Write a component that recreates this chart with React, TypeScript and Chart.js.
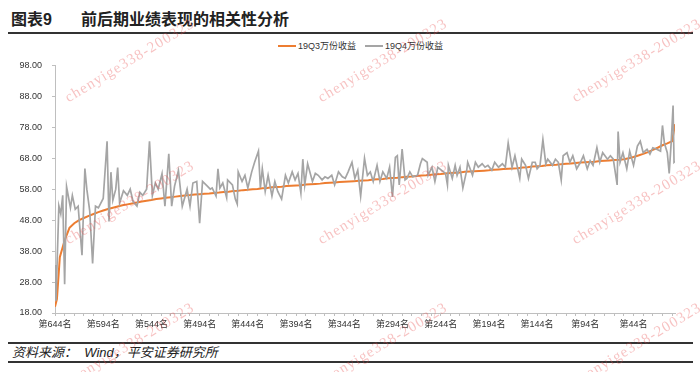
import React, { useEffect, useRef } from "react";
import { Chart, registerables } from "chart.js";

Chart.register(...registerables);

// ---------- data ----------
// 19Q3万份收益: rank positions (第N名, left = 644, right = 1) and values
const q3Ranks = [
  644, 642, 639, 634, 629, 624, 619, 614, 609, 604, 599, 594, 589, 584, 579, 574, 569, 564, 559, 554,
  549, 544, 539, 534, 529, 524, 519, 514, 509, 504, 499, 494, 489, 484, 479, 474, 469, 464, 459, 454,
  449, 444, 439, 434, 429, 424, 419, 414, 409, 404, 399, 394, 389, 384, 379, 374, 369, 364, 359, 354,
  349, 344, 339, 334, 329, 324, 319, 314, 309, 304, 299, 294, 289, 284, 279, 274, 269, 264, 259, 254,
  249, 244, 239, 234, 229, 224, 219, 214, 209, 204, 199, 194, 189, 184, 179, 174, 169, 164, 159, 154,
  149, 144, 139, 134, 129, 124, 119, 114, 109, 104, 99, 94, 89, 84, 79, 74, 69, 64, 59, 54,
  49, 44, 39, 34, 29, 24, 19, 14, 9, 4, 1,
];
const q3Values = [
  20, 22.5,
  36, 41.5, 45.5, 47, 48, 48.7, 49.4, 50, 50.6, 51.1,
  51.6, 52, 52.4, 52.8, 53.1, 53.4, 53.7, 54, 54.3, 54.5,
  54.8, 55, 55.2, 55.4, 55.6, 55.8, 56, 56.1, 56.3, 56.4,
  56.5, 56.6, 56.8, 56.9, 57.1, 57.2, 57.4, 57.5, 57.7, 57.8,
  58, 58.1, 58.3, 58.4, 58.6, 58.7, 58.8, 59, 59.1, 59.2,
  59.3, 59.5, 59.6, 59.7, 59.8, 60, 60.1, 60.2, 60.3, 60.4,
  60.5, 60.6, 60.7, 60.8, 60.9, 61.1, 61.2, 61.3, 61.5, 61.6,
  61.7, 61.9, 62, 62.1, 62.3, 62.4, 62.5, 62.7, 62.8, 62.9,
  63.1, 63.2, 63.3, 63.4, 63.6, 63.7, 63.8, 63.9, 64, 64.1,
  64.3, 64.4, 64.5, 64.6, 64.7, 64.8, 65, 65.1, 65.3, 65.4,
  65.5, 65.7, 65.8, 65.9, 66.1, 66.2, 66.3, 66.5, 66.6, 66.7,
  66.8, 66.9, 67.1, 67.2, 67.3, 67.4, 67.5, 67.7, 68, 68.4,
  68.9, 69.4, 70, 70.7, 71.4, 72.2, 72.8, 73.5,
  79,
];

// 19Q4万份收益: rank positions and values
const q4Ranks = [
  644, 643, 640, 638, 636, 634, 632, 628, 626, 623, 620, 616, 613, 611, 608, 605, 602, 599, 594, 590,
  588, 586, 584, 581, 579, 577, 573, 569, 566, 563, 559, 556, 553, 549, 546, 543, 540, 537, 533, 530,
  526, 523, 520, 516, 512, 507, 504, 501, 497, 494, 491, 486, 483, 481, 477, 475, 473, 470, 466, 465,
  460, 457, 455, 454, 450, 447, 444, 440, 437, 433, 431, 429, 426, 423, 419, 416, 413, 409, 405, 402,
  398, 395, 392, 389, 387, 385, 382, 377, 374, 371, 367, 364, 361, 357, 354, 350, 346, 343, 340, 336,
  333, 330, 327, 323, 320, 317, 314, 310, 307, 304, 300, 297, 294, 291, 289, 287, 284, 281, 279, 276,
  273, 268, 265, 263, 258, 257, 253, 250, 247, 243, 239, 237, 236, 232, 229, 227, 224, 221, 217, 216,
  211, 208, 205, 201, 198, 195, 191, 188, 184, 180, 177, 174, 170, 167, 162, 160, 156, 153, 149, 146,
  144, 141, 138, 135, 133, 128, 125, 122, 119, 117, 113, 110, 107, 103, 99, 96, 92, 89, 86, 82,
  79, 76, 71, 68, 65, 61, 60, 58, 55, 51, 48, 44, 40, 37, 34, 30, 27, 24, 20, 16,
  14, 12, 9, 7, 5, 3, 2, 1,
];
const q4Values = [
  33.5, 22, 52.6, 50, 56, 27.3, 58.8, 52, 56, 51.5, 52.5, 36.7, 64.7, 58, 51, 34, 52.5, 52, 55, 73.5,
  47.6, 63.5, 54.4, 58, 65, 53.5, 57.5, 56, 58, 54, 52.5, 57, 56, 58, 73.5, 56, 60, 58, 63, 52.5,
  69.4, 52.5, 59, 64, 52.5, 58, 52.5, 60, 60.5, 47, 60.5, 59, 58, 58.4, 55.8, 64.6, 58.4, 60, 55.3, 61,
  59.4, 54.8, 53.2, 63.6, 60.5, 62.5, 58.4, 63.6, 66.7, 70.3, 58.4, 64.6, 57.3, 62.5, 55.8, 60.5, 57.3, 54.8, 62.5, 60,
  63.6, 61, 63.1, 56.8, 67.7, 59.4, 66.2, 60.5, 63.1, 62.5, 61, 62, 61.5, 62.5, 59.4, 63.6, 62, 61.5, 63.6, 66.7,
  61.5, 64.1, 55.8, 68, 62.5, 63.6, 60.5, 65.7, 60.5, 63.6, 61.5, 65.1, 55.5, 68.3, 68.8, 59.4, 71, 61, 61.5, 63.6,
  62, 62.5, 66.2, 67.9, 66.7, 62.5, 65.1, 60.5, 65.1, 64.1, 63.1, 59.4, 65.7, 61.5, 65.7, 62.5, 65.1, 58.4, 64.1, 66.7,
  62.5, 66.7, 65.1, 66.2, 65.1, 65.7, 64.1, 66.7, 65.1, 66.2, 65.1, 72.9, 65.1, 68.8, 61.5, 67.7, 65.7, 61.5, 66.7, 66.7,
  64.6, 65.7, 74, 66.2, 67.7, 65.7, 67.7, 66.7, 61, 68.8, 69.8, 66.7, 68.8, 64.6, 66.7, 68.8, 64.6, 67.2, 65.7, 71.4,
  66.7, 69.8, 67.7, 68.8, 67.7, 59.4, 76.6, 66.7, 69.8, 64.6, 70.3, 65.7, 71.9, 73.5, 69.8, 70.9, 69.3, 71.4, 70.9, 70.3,
  78.6, 72.9, 69.8, 63.1, 72.9, 85, 66.7, 67,
];

// Axis ticks
const xLabelRanks = [644, 594, 544, 494, 444, 394, 344, 294, 244, 194, 144, 94, 44];
const xTickStep = 10;
const yMin = 18;
const yMax = 98;
const yStep = 10;

const seriesNames = ["19Q3万份收益", "19Q4万份收益"];
const seriesColors = ["#ED7D31", "#A5A5A5"];

const FONT = '"Liberation Sans", Arial, "Noto Sans CJK SC", sans-serif';

const watermarkSpots = [
  [70, 105], [323, 105], [577, 105],
  [70, 247], [323, 247], [577, 247],
  [70, 389], [323, 389], [577, 389],
];

export default function App() {
  const canvasRef = useRef<HTMLCanvasElement | null>(null);

  useEffect(() => {
    const canvas = canvasRef.current;
    if (!canvas) return;
    const minorTicks: number[] = [];
    for (let v = q3Ranks[0]; v >= 1; v -= xTickStep) minorTicks.push(v);

    const axisColor = "#bfbfbf";
    const chart = new Chart(canvas, {
      type: "line",
      data: {
        datasets: [
          {
            label: seriesNames[0],
            data: q3Ranks.map((r, i) => ({ x: r, y: q3Values[i] })),
            borderColor: seriesColors[0],
            backgroundColor: seriesColors[0],
            borderWidth: 2,
            pointRadius: 0,
            tension: 0,
            order: 1,
          },
          {
            label: seriesNames[1],
            data: q4Ranks.map((r, i) => ({ x: r, y: q4Values[i] })),
            borderColor: seriesColors[1],
            backgroundColor: seriesColors[1],
            borderWidth: 1.7,
            pointRadius: 0,
            tension: 0,
            order: 0,
          },
        ],
      },
      options: {
        animation: false,
        responsive: false,
        layout: { padding: { top: 6, right: 25, left: 0, bottom: 0 } },
        plugins: { legend: { display: false }, tooltip: { enabled: false } },
        scales: {
          x: {
            type: "linear",
            reverse: true,
            min: 1,
            max: 644,
            afterBuildTicks: (s: any) => {
              s.ticks = minorTicks.map((v) => ({ value: v }));
            },
            afterFit: (s: any) => {
              s.height = 27;
            },
            grid: { drawOnChartArea: false, drawTicks: true, tickLength: 3, color: axisColor },
            border: { display: true, color: axisColor, width: 1 },
            ticks: {
              autoSkip: false,
              maxRotation: 0,
              padding: 3,
              color: "#333",
              font: { size: 9, family: FONT },
              callback: (v: any) => (xLabelRanks.includes(Number(v)) ? `第${v}名` : ""),
            },
          },
          y: {
            min: yMin,
            max: yMax,
            afterFit: (s: any) => {
              s.width = 55;
            },
            grid: { drawOnChartArea: false, drawTicks: true, tickLength: 3, color: axisColor },
            border: { display: true, color: axisColor, width: 1 },
            ticks: {
              stepSize: yStep,
              padding: 10,
              color: "#333",
              font: { size: 9, family: FONT },
              callback: (v: any) => Number(v).toFixed(2),
            },
          },
        },
      },
    });
    return () => chart.destroy();
  }, []);

  const lineStyle = (top: number): React.CSSProperties => ({
    position: "absolute",
    left: 8,
    top,
    width: 685,
    height: 2,
    background: "#333",
  });

  return (
    <div
      style={{
        position: "fixed",
        left: 0,
        top: 0,
        width: 700,
        height: 372,
        background: "#fff",
        overflow: "hidden",
        fontFamily: FONT,
      }}
    >
      <div style={{ position: "absolute", left: 11, top: 11, fontSize: 16, fontWeight: 700, lineHeight: "18px", color: "#222", whiteSpace: "nowrap" }}>
        图表9
      </div>
      <div style={{ position: "absolute", left: 81, top: 11, fontSize: 16, fontWeight: 700, lineHeight: "18px", color: "#222", whiteSpace: "nowrap" }}>
        前后期业绩表现的相关性分析
      </div>
      <div style={lineStyle(32)} />

      {/* legend */}
      <div style={{ position: "absolute", left: 278, top: 45, width: 18, height: 2, background: seriesColors[0] }} />
      <div style={{ position: "absolute", left: 298, top: 40, fontSize: 9, lineHeight: "12px", color: "#333", whiteSpace: "nowrap" }}>
        {seriesNames[0]}
      </div>
      <div style={{ position: "absolute", left: 365, top: 45, width: 18, height: 2, background: seriesColors[1] }} />
      <div style={{ position: "absolute", left: 385, top: 40, fontSize: 9, lineHeight: "12px", color: "#333", whiteSpace: "nowrap" }}>
        {seriesNames[1]}
      </div>

      <div style={{ position: "absolute", left: 0, top: 50, width: 700, height: 290 }}>
        <canvas ref={canvasRef} width={700} height={290} style={{ width: 700, height: 290, display: "block" }} />
      </div>

      <div style={lineStyle(342)} />
      <div style={{ position: "absolute", left: 12, top: 345, fontSize: 13, fontStyle: "italic", lineHeight: "16px", color: "#222", whiteSpace: "pre" }}>
        {"资料来源：  Wind，平安证券研究所"}
      </div>
      <div style={lineStyle(361)} />

      {watermarkSpots.map(([x, y], i) => (
        <div
          key={i}
          style={{
            position: "absolute",
            left: x,
            top: y - 15,
            fontFamily: '"Liberation Serif", serif',
            fontSize: 15,
            lineHeight: "15px",
            letterSpacing: 1.2,
            color: "rgba(232, 80, 80, 0.35)",
            whiteSpace: "nowrap",
            transformOrigin: "0 100%",
            transform: "rotate(-31deg)",
            pointerEvents: "none",
          }}
        >
          chenyige338-200323
        </div>
      ))}
    </div>
  );
}
